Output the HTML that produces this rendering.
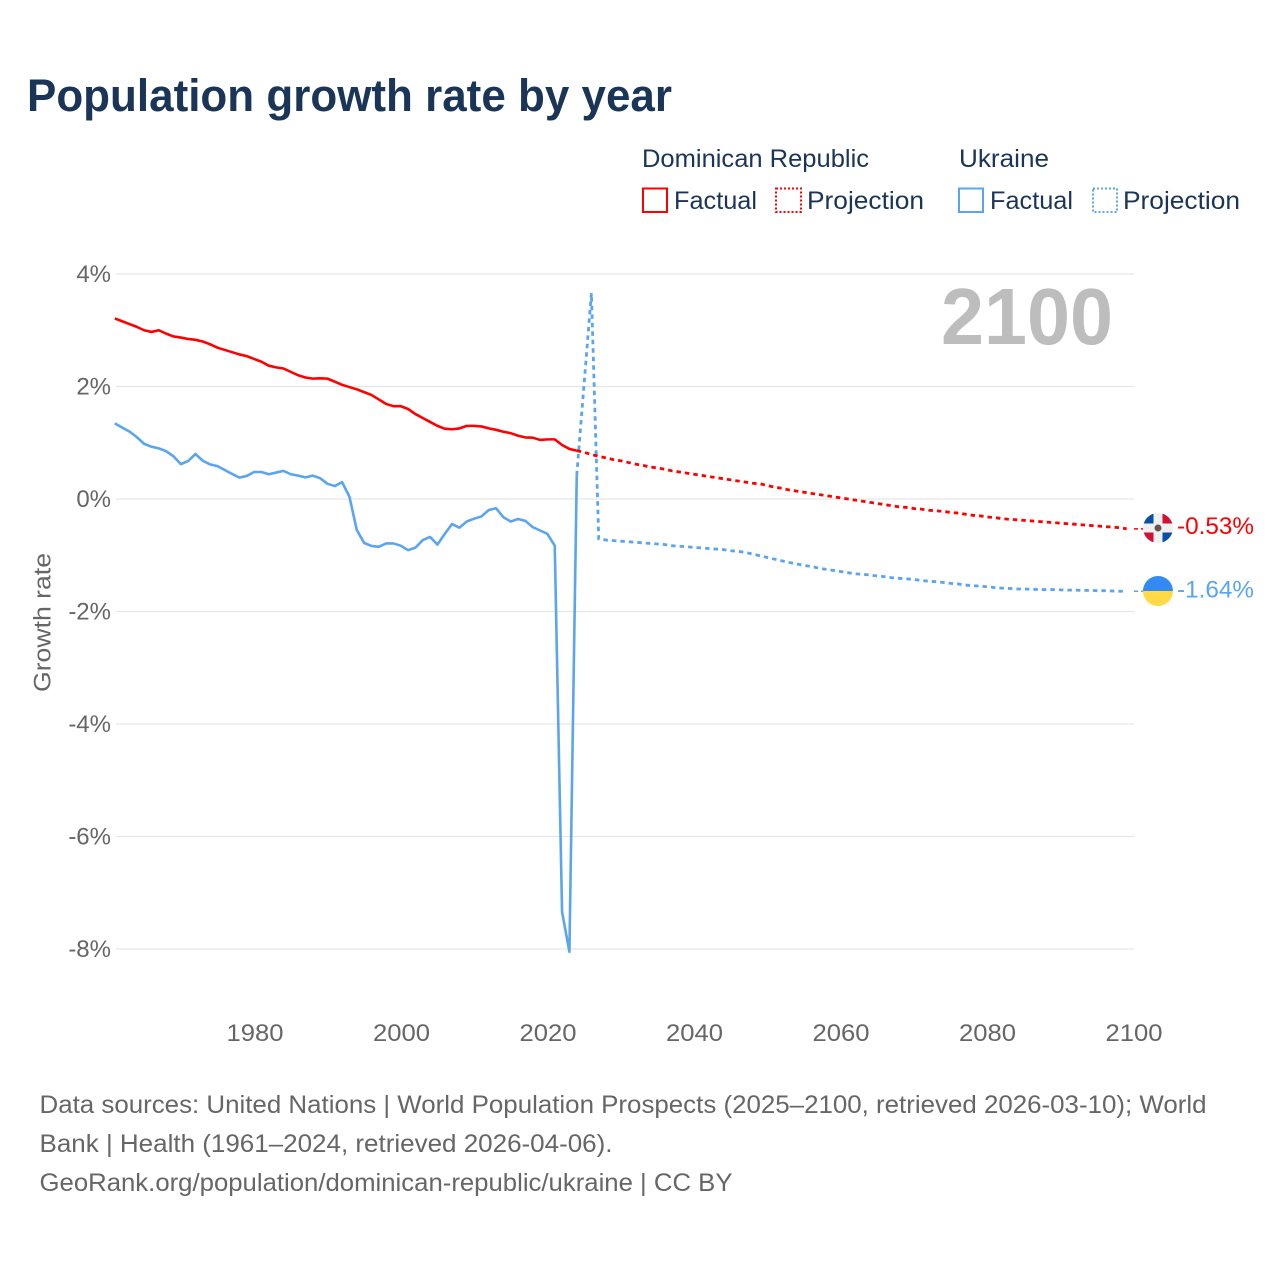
<!DOCTYPE html>
<html lang="en">
<head>
<meta charset="utf-8">
<title>Population growth rate by year</title>
<style>
html,body{margin:0;padding:0;background:#fff;width:1280px;height:1280px;overflow:hidden}
svg{display:block}
text{font-family:"Liberation Sans",sans-serif}
</style>
</head>
<body>
<svg id="chart" xmlns="http://www.w3.org/2000/svg" width="1280" height="1280" viewBox="0 0 1280 1280">
  <defs>
    <clipPath id="flag-dr-clip"><circle cx="1158" cy="528" r="15"/></clipPath>
    <clipPath id="flag-ua-clip"><circle cx="1158" cy="591" r="15"/></clipPath>
  </defs>
  <text x="27" y="111" font-size="45" font-weight="700" fill="#1a3557" textLength="645" lengthAdjust="spacingAndGlyphs">Population growth rate by year</text>

  <g font-size="25" fill="#1a3557">
    <text x="642" y="167" textLength="227" lengthAdjust="spacingAndGlyphs">Dominican Republic</text>
    <text x="959" y="167" textLength="90" lengthAdjust="spacingAndGlyphs">Ukraine</text>
    <rect x="643" y="188.500" width="24" height="23.500" fill="none" stroke="#ff0000" stroke-width="2"/>
    <text x="674" y="209" textLength="83" lengthAdjust="spacingAndGlyphs">Factual</text>
    <rect x="776" y="188.500" width="25" height="23.500" fill="none" stroke="#ff0000" stroke-width="2" stroke-dasharray="2 2"/>
    <text x="807" y="209" textLength="117" lengthAdjust="spacingAndGlyphs">Projection</text>
    <rect x="959" y="188.500" width="24" height="23.500" fill="none" stroke="#5aa5ee" stroke-width="2"/>
    <text x="990" y="209" textLength="83" lengthAdjust="spacingAndGlyphs">Factual</text>
    <rect x="1093" y="188.500" width="24" height="23.500" fill="none" stroke="#5aa5ee" stroke-width="2" stroke-dasharray="2 2"/>
    <text x="1123" y="209" textLength="117" lengthAdjust="spacingAndGlyphs">Projection</text>
  </g>

  <g id="grid"></g>
  <g id="y-ticks"></g>
  <g id="x-ticks"></g>
  <text transform="translate(50.500 622.500) rotate(-90)" text-anchor="middle" font-size="24" fill="#666666" textLength="139" lengthAdjust="spacingAndGlyphs">Growth rate</text>
  <text x="941" y="344" font-size="80" font-weight="700" fill="#bdbdbd" textLength="172" lengthAdjust="spacingAndGlyphs">2100</text>
  <g id="series"></g>

  <g clip-path="url(#flag-dr-clip)">
    <rect x="1143" y="513" width="30" height="30" fill="#f0f0f0"/>
    <rect x="1143" y="513" width="10.500" height="10.500" fill="#0a50a8"/>
    <rect x="1162.500" y="513" width="10.500" height="10.500" fill="#d21034"/>
    <rect x="1143" y="532.500" width="10.500" height="10.500" fill="#d21034"/>
    <rect x="1162.500" y="532.500" width="10.500" height="10.500" fill="#0a50a8"/>
    <circle cx="1158" cy="528" r="3.500" fill="#3d6b5c"/>
    <circle cx="1158" cy="528" r="1.800" fill="#c0272d"/>
  </g>
  <g clip-path="url(#flag-ua-clip)">
    <rect x="1143" y="576" width="30" height="15" fill="#338af3"/>
    <rect x="1143" y="591" width="30" height="15" fill="#ffda44"/>
  </g>
  <text x="1177" y="534" font-size="24" fill="#ff0000" textLength="77" lengthAdjust="spacingAndGlyphs">-0.53%</text>
  <text x="1177" y="597.500" font-size="24" fill="#5aa5ee" textLength="77" lengthAdjust="spacingAndGlyphs">-1.64%</text>

  <g font-size="25" fill="#666666">
    <text x="39.500" y="1113" textLength="1167" lengthAdjust="spacingAndGlyphs">Data sources: United Nations | World Population Prospects (2025–2100, retrieved 2026-03-10); World</text>
    <text x="39.500" y="1152" textLength="573" lengthAdjust="spacingAndGlyphs">Bank | Health (1961–2024, retrieved 2026-04-06).</text>
    <text x="39.500" y="1191" textLength="693" lengthAdjust="spacingAndGlyphs">GeoRank.org/population/dominican-republic/ukraine | CC BY</text>
  </g>
</svg>
<script>
const yTickValues = [4, 2, 0, -2, -4, -6, -8];
const yTickLabels = ['4%', '2%', '0%', '-2%', '-4%', '-6%', '-8%'];
const xTickYears = [1980, 2000, 2020, 2040, 2060, 2080, 2100];
const firstYear = 1961;
const lastFactualYear = 2024;
const drFactual = [3.21,3.16,3.11,3.06,3.00,2.97,3.00,2.94,2.89,2.87,2.845,2.83,2.80,2.75,2.69,2.65,2.61,2.57,2.54,2.49,2.44,2.37,2.34,2.32,2.26,2.20,2.16,2.14,2.145,2.14,2.085,2.03,1.99,1.95,1.90,1.85,1.77,1.69,1.65,1.65,1.60,1.51,1.44,1.37,1.30,1.25,1.24,1.255,1.30,1.30,1.29,1.255,1.23,1.195,1.17,1.125,1.095,1.09,1.05,1.06,1.06,0.96,0.89,0.86];
const drProjection = [0.86,0.83,0.79,0.76,0.73,0.70,0.68,0.65,0.62,0.60,0.57,0.55,0.53,0.50,0.48,0.46,0.44,0.42,0.40,0.38,0.36,0.34,0.32,0.30,0.28,0.27,0.24,0.21,0.19,0.16,0.14,0.12,0.10,0.08,0.06,0.04,0.02,0.00,-0.02,-0.04,-0.06,-0.08,-0.10,-0.12,-0.14,-0.15,-0.17,-0.18,-0.20,-0.21,-0.22,-0.24,-0.25,-0.27,-0.29,-0.30,-0.32,-0.33,-0.35,-0.36,-0.37,-0.38,-0.39,-0.40,-0.41,-0.42,-0.43,-0.44,-0.45,-0.46,-0.47,-0.48,-0.49,-0.50,-0.51,-0.53];
const uaFactual = [1.345,1.27,1.20,1.10,0.98,0.93,0.90,0.85,0.76,0.62,0.675,0.80,0.68,0.615,0.585,0.515,0.445,0.38,0.41,0.48,0.48,0.44,0.47,0.50,0.44,0.415,0.385,0.415,0.37,0.27,0.23,0.30,0.04,-0.55,-0.78,-0.835,-0.85,-0.79,-0.79,-0.83,-0.91,-0.865,-0.73,-0.675,-0.81,-0.62,-0.445,-0.51,-0.40,-0.35,-0.31,-0.195,-0.165,-0.325,-0.40,-0.355,-0.39,-0.50,-0.56,-0.62,-0.83,-7.34,-8.05,0.42];
const uaProjection = [0.42,2.04,3.66,-0.71,-0.73,-0.74,-0.75,-0.76,-0.77,-0.78,-0.79,-0.80,-0.81,-0.83,-0.84,-0.85,-0.86,-0.87,-0.88,-0.89,-0.90,-0.92,-0.93,-0.95,-0.98,-1.01,-1.04,-1.07,-1.10,-1.13,-1.155,-1.18,-1.20,-1.23,-1.25,-1.27,-1.29,-1.31,-1.33,-1.34,-1.35,-1.37,-1.38,-1.40,-1.41,-1.42,-1.43,-1.45,-1.46,-1.47,-1.485,-1.50,-1.51,-1.53,-1.54,-1.55,-1.56,-1.575,-1.585,-1.59,-1.60,-1.60,-1.605,-1.61,-1.61,-1.61,-1.615,-1.62,-1.62,-1.625,-1.625,-1.63,-1.63,-1.635,-1.64,-1.64];

const SVG_NS = 'http://www.w3.org/2000/svg';
const xScale = function (year) { return 114.8 + (year - firstYear) * (1134 - 114.8) / (2100 - firstYear); };
const yScale = function (value) { return 499 - value * 56.25; };
const pointsFrom = function (values, startYear) {
  return values.map(function (v, i) { return xScale(startYear + i).toFixed(2) + ',' + yScale(v).toFixed(2); }).join(' ');
};

const gridGroup = document.getElementById('grid');
const yTickGroup = document.getElementById('y-ticks');
yTickValues.forEach(function (value, i) {
  const line = document.createElementNS(SVG_NS, 'line');
  
  
  line.setAttribute('x1', 116);
  line.setAttribute('x2', 1134);
  line.setAttribute('y1', yScale(value));
  line.setAttribute('y2', yScale(value));
  line.setAttribute('stroke', '#e6e6e6');
  line.setAttribute('stroke-width', 1.3);
  gridGroup.appendChild(line);
  const label = document.createElementNS(SVG_NS, 'text');
  
  
  label.setAttribute('x', 111);
  label.setAttribute('y', yScale(value) + 8);
  label.setAttribute('text-anchor', 'end');
  label.setAttribute('font-size', 24);
  label.setAttribute('fill', '#666666');
  label.textContent = yTickLabels[i];
  yTickGroup.appendChild(label);
});

const xTickGroup = document.getElementById('x-ticks');
const tickBaseX = function (year) { return 255 + (year - 1980) * (1134 - 255) / 120; };
xTickYears.forEach(function (year) {
  const label = document.createElementNS(SVG_NS, 'text');
  
  
  label.setAttribute('x', tickBaseX(year));
  label.setAttribute('y', 1041);
  label.setAttribute('text-anchor', 'middle');
  label.setAttribute('font-size', 24);
  label.setAttribute('fill', '#666666');
  label.setAttribute('textLength', 57);
  label.setAttribute('lengthAdjust', 'spacingAndGlyphs');
  label.textContent = String(year);
  xTickGroup.appendChild(label);
});

const seriesGroup = document.getElementById('series');

const uaFactualLine = document.createElementNS(SVG_NS, 'polyline');


uaFactualLine.setAttribute('points', pointsFrom(uaFactual, firstYear));
uaFactualLine.setAttribute('fill', 'none');
uaFactualLine.setAttribute('stroke', '#5aa5ee');
uaFactualLine.setAttribute('stroke-width', 2.6);
uaFactualLine.setAttribute('stroke-linejoin', 'round');
seriesGroup.appendChild(uaFactualLine);

const uaProjectionLine = document.createElementNS(SVG_NS, 'polyline');


uaProjectionLine.setAttribute('points', pointsFrom(uaProjection, lastFactualYear));
uaProjectionLine.setAttribute('fill', 'none');
uaProjectionLine.setAttribute('stroke', '#5aa5ee');
uaProjectionLine.setAttribute('stroke-width', 2.8);
uaProjectionLine.setAttribute('stroke-dasharray', '4.500 4');
seriesGroup.appendChild(uaProjectionLine);

const drFactualLine = document.createElementNS(SVG_NS, 'polyline');


drFactualLine.setAttribute('points', pointsFrom(drFactual, firstYear));
drFactualLine.setAttribute('fill', 'none');
drFactualLine.setAttribute('stroke', '#ff0000');
drFactualLine.setAttribute('stroke-width', 2.6);
drFactualLine.setAttribute('stroke-linejoin', 'round');
seriesGroup.appendChild(drFactualLine);

const drProjectionLine = document.createElementNS(SVG_NS, 'polyline');


drProjectionLine.setAttribute('points', pointsFrom(drProjection, lastFactualYear));
drProjectionLine.setAttribute('fill', 'none');
drProjectionLine.setAttribute('stroke', '#ff0000');
drProjectionLine.setAttribute('stroke-width', 2.8);
drProjectionLine.setAttribute('stroke-dasharray', '4.500 4');
seriesGroup.appendChild(drProjectionLine);

const drConnector = document.createElementNS(SVG_NS, 'line');


drConnector.setAttribute('x1', xScale(2100));
drConnector.setAttribute('x2', xScale(2100) + 9);
drConnector.setAttribute('y1', yScale(drProjection[drProjection.length - 1]));
drConnector.setAttribute('y2', yScale(drProjection[drProjection.length - 1]));
drConnector.setAttribute('stroke', '#ff0000');
drConnector.setAttribute('stroke-width', 1.5);
drConnector.setAttribute('stroke-dasharray', '4 3');
seriesGroup.appendChild(drConnector);

const uaConnector = document.createElementNS(SVG_NS, 'line');


uaConnector.setAttribute('x1', xScale(2100));
uaConnector.setAttribute('x2', xScale(2100) + 9);
uaConnector.setAttribute('y1', yScale(uaProjection[uaProjection.length - 1]));
uaConnector.setAttribute('y2', yScale(uaProjection[uaProjection.length - 1]));
uaConnector.setAttribute('stroke', '#5aa5ee');
uaConnector.setAttribute('stroke-width', 1.5);
uaConnector.setAttribute('stroke-dasharray', '4 3');
seriesGroup.appendChild(uaConnector);
</script>
</body>
</html>
